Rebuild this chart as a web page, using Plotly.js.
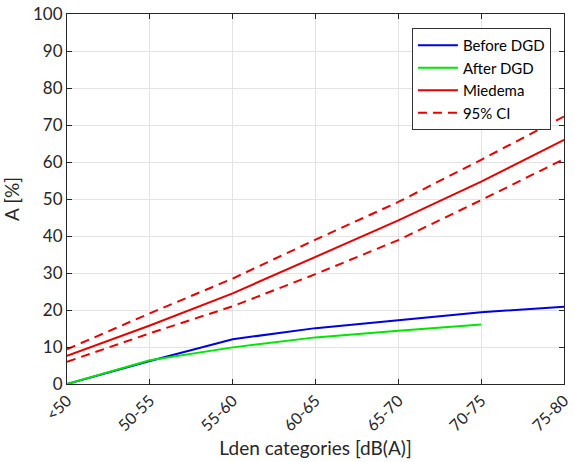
<!DOCTYPE html>
<html><head><meta charset="utf-8">
<script src="https://cdn.plot.ly/plotly-3.0.1.min.js"></script>
<style>body{margin:0;background:#fff}#chart{width:575px;height:462px}</style>
</head><body><div id="chart"></div>
<script>
const categories = ["<50","50-55","55-60","60-65","65-70","70-75","75-80"];
const beforeDGD = [0, 6.2, 12.1, 15.1, 17.2, 19.4, 20.9];
const afterDGD  = [0, 6.4, 9.9, 12.6, 14.4, 16.1];
const miedema   = [7.6, 15.8, 24.5, 34.3, 44.2, 54.7, 66.0];
const ciUpper   = [9.4, 19.1, 28.5, 39.0, 49.2, 60.6, 72.3];
const ciLower   = [6.0, 13.7, 21.0, 29.7, 38.9, 49.7, 60.8];
const yTicks = [0,10,20,30,40,50,60,70,80,90,100];

const font = "Lato, 'Open Sans', sans-serif";
const axisColor = "#262626";
const traces = [
  {x: categories, y: beforeDGD, name: "Before DGD", mode: "lines", line: {color: "#0000e0", width: 2}},
  {x: categories.slice(0, afterDGD.length), y: afterDGD, name: "After DGD", mode: "lines", line: {color: "#00e600", width: 2}},
  {x: categories, y: miedema, name: "Miedema", mode: "lines", line: {color: "#e60000", width: 2}},
  {x: categories, y: ciUpper, name: "95% CI", mode: "lines", line: {color: "#e60000", width: 2, dash: "9px,6px"}, legendgroup: "ci"},
  {x: categories, y: ciLower, name: "95% CI", mode: "lines", line: {color: "#e60000", width: 2, dash: "9px,6px"}, legendgroup: "ci", showlegend: false}
];
const layout = {
  width: 575, height: 462,
  margin: {l: 67, r: 11, t: 14, b: 78},
  paper_bgcolor: "#fff", plot_bgcolor: "#fff",
  font: {family: font, color: axisColor, size: 16},
  showlegend: true,
  legend: {x: 0.694, y: 0.962, xanchor: "left", yanchor: "top", bgcolor: "#fff",
           bordercolor: "#333", borderwidth: 1, font: {size: 15, family: font, color: "#000"},
           tracegroupgap: 0, itemwidth: 40},
  xaxis: {type: "category", categoryorder: "array", categoryarray: categories,
          range: [0, 6], tickangle: -45, showgrid: true, gridcolor: "#e3e3e3",
          showline: true, linecolor: axisColor, linewidth: 1, mirror: "ticks",
          ticks: "inside", ticklen: 5, tickcolor: axisColor, zeroline: false,
          tickfont: {size: 16, family: font, color: axisColor},
          title: {text: "Lden categories [dB(A)]", font: {size: 19, family: font, color: axisColor}, standoff: 8}},
  yaxis: {range: [0, 100], tickvals: yTicks, showgrid: true, gridcolor: "#e3e3e3",
          showline: true, linecolor: axisColor, linewidth: 1, mirror: "ticks",
          ticks: "inside", ticklen: 5, tickcolor: axisColor, zeroline: false,
          tickfont: {size: 17, family: font, color: axisColor},
          title: {text: "A [%]", font: {size: 19, family: font, color: axisColor}, standoff: 10}}
};
Plotly.newPlot("chart", traces, layout, {displayModeBar: false, staticPlot: true});
</script></body></html>
